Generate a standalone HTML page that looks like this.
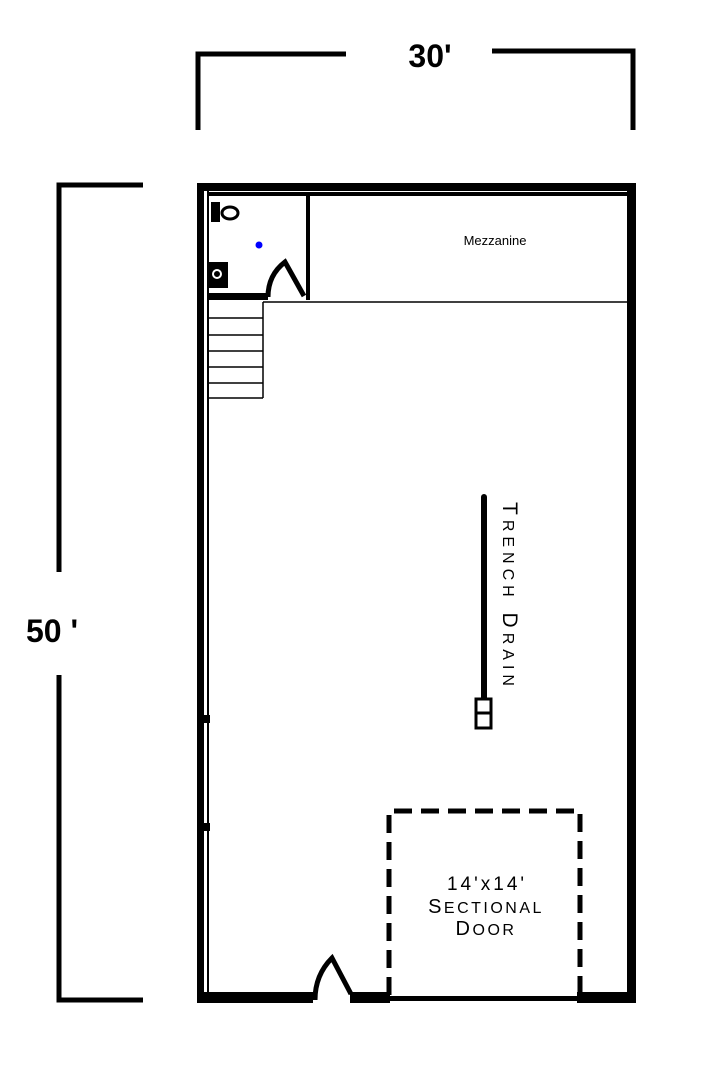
<!DOCTYPE html>
<html><head><style>html,body{margin:0;padding:0;background:#fff}svg{display:block}</style></head>
<body>
<svg width="703" height="1080" viewBox="0 0 703 1080" xmlns="http://www.w3.org/2000/svg" font-family="Liberation Sans, sans-serif">
<rect width="703" height="1080" fill="#fff"/>
<g fill="none" stroke="#000" stroke-width="5">
<polyline points="198,130 198,54 346,54"/>
<polyline points="492,51 633,51 633,130"/>
<polyline points="143,185 59,185 59,572"/>
<polyline points="59,675 59,1000 143,1000"/>
</g>
<text x="430" y="67" font-size="32" font-weight="bold" text-anchor="middle" fill="#000">30'</text>
<text x="26" y="642" font-size="32" font-weight="bold" fill="#000">50 '</text>
<rect x="197" y="183" width="439" height="8" fill="#000"/>
<rect x="208" y="192" width="419" height="4" fill="#000"/>
<rect x="197" y="183" width="7" height="820" fill="#000"/>
<rect x="207" y="190" width="2" height="805" fill="#000"/>
<rect x="627" y="183" width="9" height="820" fill="#000"/>
<rect x="197" y="992" width="116" height="11" fill="#000"/>
<rect x="350" y="992" width="40" height="11" fill="#000"/>
<rect x="388" y="996" width="190" height="5" fill="#000"/>
<rect x="577" y="992" width="59" height="11" fill="#000"/>
<rect x="208" y="293" width="60" height="7" fill="#000"/>
<rect x="306" y="193" width="4" height="107" fill="#000"/>
<rect x="211" y="202" width="9" height="20" fill="#000"/>
<ellipse cx="230" cy="213" rx="8" ry="6" fill="none" stroke="#000" stroke-width="3"/>
<rect x="208" y="262" width="20" height="26" fill="#000"/>
<circle cx="217" cy="274" r="4" fill="none" stroke="#fff" stroke-width="2"/>
<circle cx="259" cy="245" r="3.5" fill="#00f"/>
<path d="M268,297 Q268,275 285,262 L304,296" fill="none" stroke="#000" stroke-width="5"/>
<line x1="263" y1="302" x2="627" y2="302" stroke="#000" stroke-width="1.5"/>
<text x="495" y="245" font-size="13" text-anchor="middle" fill="#000">Mezzanine</text>
<g stroke="#000" stroke-width="1.5" fill="none">
<line x1="263" y1="302" x2="263" y2="398"/>
<line x1="208" y1="398" x2="263" y2="398"/>
<line x1="208" y1="318" x2="263" y2="318"/>
<line x1="208" y1="335" x2="263" y2="335"/>
<line x1="208" y1="351" x2="263" y2="351"/>
<line x1="208" y1="367" x2="263" y2="367"/>
<line x1="208" y1="383" x2="263" y2="383"/>
</g>
<line x1="484" y1="497" x2="484" y2="700" stroke="#000" stroke-width="6" stroke-linecap="round"/>
<rect x="476" y="699" width="15" height="29" fill="#fff" stroke="#000" stroke-width="3"/>
<line x1="476" y1="713" x2="491" y2="713" stroke="#000" stroke-width="3"/>
<text transform="translate(503,502) rotate(90)" font-size="21" letter-spacing="5" fill="#000">T<tspan font-size="16">RENCH</tspan> D<tspan font-size="16">RAIN</tspan></text>
<polyline points="389,995 389,811 580,811 580,995" fill="none" stroke="#000" stroke-width="5" stroke-dasharray="18,9"/>
<text x="487" y="890" font-size="19" text-anchor="middle" letter-spacing="3" fill="#000">14'x14'</text>
<text x="486" y="913" font-size="20" text-anchor="middle" letter-spacing="2.5" fill="#000">S<tspan font-size="16">ECTIONAL</tspan></text>
<text x="486" y="935" font-size="20" text-anchor="middle" letter-spacing="2.5" fill="#000">D<tspan font-size="16">OOR</tspan></text>
<path d="M315,1000 Q315,975 332,958 L351,994" fill="none" stroke="#000" stroke-width="5"/>
<rect x="204" y="715" width="6" height="8" fill="#000"/>
<rect x="204" y="823" width="6" height="8" fill="#000"/>
</svg>
</body></html>
